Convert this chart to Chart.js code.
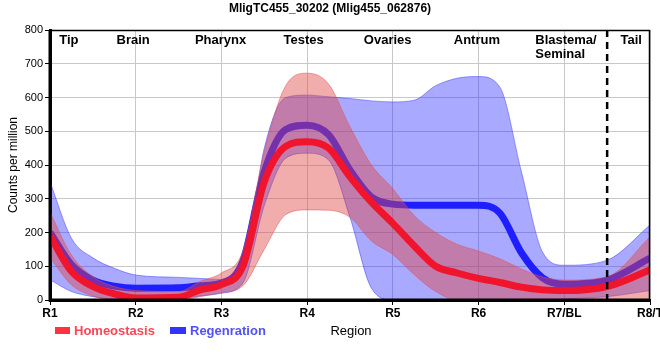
<!DOCTYPE html>
<html><head><meta charset="utf-8">
<script src="https://cdn.jsdelivr.net/npm/chart.js@4.4.0/dist/chart.umd.min.js"></script>
<style>html,body{margin:0;padding:0;background:#fff}#wrap{width:660px;height:360px;position:relative}</style>
</head><body><div id="wrap"><canvas id="c" width="660" height="360"></canvas></div>
<script>
const chartTitle = 'MligTC455_30202 (Mlig455_062876)';
const tickLabels = ['R1','R2','R3','R4','R5','R6','R7/BL','R8/T'];
const regionNames = ['Tip','Brain','Pharynx','Testes','Ovaries','Antrum',['Blastema/','Seminal'],'Tail'];
const regionPos = [1.22,1.97,2.99,3.96,4.94,5.98,7.02,7.78];
const dividerAt = 7.5;
const yTicks = [0,100,200,300,400,500,600,700,800];
const positions = [1,1.25,1.5,1.75,2,2.5,2.75,3,3.25,3.5,3.75,4,4.25,4.5,4.75,5,5.25,5.5,5.75,6,6.25,6.5,6.75,7,7.5,8];
const homeoMean = [190,85,40,18,6,8,30,46,100,350,455,469,450,365,290,227,160,100,80,64,52,38,30,28,40,89];
const homeoHigh = [260,133,69,40,28,25,55,80,145,440,635,672,640,513,400,330,250,200,165,145,122,92,68,59,69,187];
const homeoLow  = [125,45,12,0,0,0,10,22,42,150,253,267,266,245,175,135,75,25,0,0,0,0,0,0,0,0];
const regenMean = [200,105,59,41,35,36,42,50,115,380,505,518,490,385,305,284,281,281,281,281,257,140,65,47,59,124];
const regenHigh = [350,183,125,94,74,67,64,61,90,450,600,607,602,597,590,587,592,635,657,662,630,380,140,103,118,222];
const regenLow  = [60,25,10,3,5,5,12,20,50,280,420,435,415,245,35,0,0,0,0,0,0,0,0,3,10,28];
const seriesNames = ['Homeostasis','Regenration'];

const pts = arr => arr.map((v,i)=>({x:positions[i], y:v}));
const FONT = "'Liberation Sans', Arial, sans-serif";
const RED_FILL='rgba(225,70,70,0.45)', BLUE_FILL='rgba(40,40,255,0.4)';
const base = {pointRadius:0, pointHoverRadius:0, cubicInterpolationMode:'monotone'};

const deco = {
  id:'deco',
  afterDatasetsDraw(chart){
    const {ctx, chartArea:a, scales:{x}} = chart;
    ctx.save();
    ctx.strokeStyle='#000';
    ctx.lineWidth=1.5;
    ctx.beginPath(); ctx.moveTo(a.left,a.top+0.5); ctx.lineTo(a.right-0.5,a.top+0.5); ctx.lineTo(a.right-0.5,a.bottom); ctx.stroke();
    ctx.lineWidth=3;
    ctx.beginPath(); ctx.moveTo(a.left,a.top); ctx.lineTo(a.left,a.bottom); ctx.lineTo(a.right,a.bottom); ctx.stroke();
    const xd = x.getPixelForValue(dividerAt);
    ctx.setLineDash([7,5]); ctx.lineWidth=2.5;
    ctx.beginPath(); ctx.moveTo(xd,a.top); ctx.lineTo(xd,a.bottom); ctx.stroke();
    ctx.setLineDash([]);
    ctx.fillStyle='#000'; ctx.font='bold 13px '+FONT; ctx.textBaseline='middle';
    regionNames.forEach((n,i)=>{
      const px = x.getPixelForValue(regionPos[i]);
      if(Array.isArray(n)){
        const w = Math.max(...n.map(s=>ctx.measureText(s).width));
        ctx.textAlign='left';
        n.forEach((s,j)=>ctx.fillText(s, px-w/2, a.top+10+j*14));
      } else {
        ctx.textAlign='center'; ctx.fillText(n, px, a.top+10);
      }
    });
    ctx.restore();
  },
  afterDraw(chart){
    const {ctx, chartArea:a} = chart;
    ctx.save();
    ctx.fillStyle='#000'; ctx.textAlign='center'; ctx.textBaseline='middle';
    ctx.font='bold 12px '+FONT; ctx.fillText(chartTitle, 330, 9);
    ctx.font='13px '+FONT; ctx.fillText('Region', (a.left+a.right)/2+1, 331);
    const items=[{x:55,c:'#ff3340',t:'#ff4455',w:15},{x:170,c:'#3333ff',t:'#5050ff',w:16}];
    ctx.font='bold 13px '+FONT; ctx.textAlign='left';
    items.forEach((it,i)=>{
      ctx.fillStyle=it.c; ctx.fillRect(it.x,327,it.w,7);
      ctx.fillStyle=it.t; ctx.fillText(seriesNames[i], it.x+it.w+4, 331);
    });
    ctx.restore();
  }
};

new Chart(document.getElementById('c'), {
  type:'line',
  data:{datasets:[
    {...base, label:'regenLow', data:pts(regenLow), borderColor:'rgba(60,60,255,0.5)', borderWidth:1, fill:false, order:6},
    {...base, label:'regenHigh', data:pts(regenHigh), borderColor:'rgba(60,60,255,0.5)', borderWidth:1, backgroundColor:BLUE_FILL, fill:'-1', order:5},
    {...base, label:seriesNames[1], data:pts(regenMean), borderColor:'#1e1eff', borderWidth:7, fill:false, order:4},
    {...base, label:'homeoLow', data:pts(homeoLow), borderColor:'rgba(225,80,80,0.5)', borderWidth:1, fill:false, order:3},
    {...base, label:'homeoHigh', data:pts(homeoHigh), borderColor:'rgba(225,80,80,0.5)', borderWidth:1, backgroundColor:RED_FILL, fill:'-1', order:2},
    {...base, label:seriesNames[0], data:pts(homeoMean), borderColor:'#f0142d', borderWidth:7, fill:false, order:1}
  ]},
  options:{
    responsive:false, animation:false, devicePixelRatio:1,
    layout:{padding:{top:30,right:10,left:0,bottom:40}},
    plugins:{legend:{display:false}, title:{display:false}, tooltip:{enabled:false}},
    scales:{
      x:{type:'linear', min:1, max:8,
        afterBuildTicks(s){ s.ticks = tickLabels.map((_,i)=>({value:i+1})); },
        afterFit(s){ s.height=20; s.paddingLeft=0; s.paddingRight=0; },
        ticks:{callback:v=>tickLabels[v-1], color:'#000', font:{family:FONT, size:12, weight:'bold'}, padding:1, maxRotation:0, autoSkip:false},
        grid:{color:'#c8c8c8', lineWidth:1, tickLength:5, tickColor:'#000'},
        border:{color:'#000', width:3}
      },
      y:{min:0, max:800,
        afterBuildTicks(s){ s.ticks = yTicks.map(v=>({value:v})); },
        afterFit(s){ s.width=50; },
        ticks:{color:'#000', font:{family:FONT, size:11}, padding:2},
        grid:{color:'#c8c8c8', lineWidth:1, tickLength:5, tickColor:'#000'},
        border:{color:'#000', width:3},
        title:{display:true, text:'Counts per million', color:'#000', font:{family:FONT, size:12}, padding:{top:6,bottom:0}}
      }
    }
  },
  plugins:[deco]
});
</script></body></html>
